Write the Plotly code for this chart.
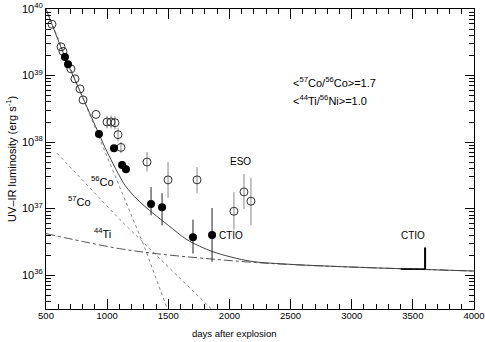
import plotly.graph_objects as go

# ---- data ----
open_days = [549, 623, 639, 704, 737, 778, 803, 909, 999, 1032, 1064, 1089, 1113,
             1326, 1498, 1735, 2037, 2119, 2176]
open_lum = [5.9e39, 2.7e39, 2.3e39, 1.26e39, 8.9e38, 6.3e38, 4.3e38, 2.6e38, 2.0e38,
            2.0e38, 1.95e38, 1.29e38, 8.3e37, 5.0e37, 2.7e37, 2.7e37, 9.1e36, 1.78e37, 1.29e37]
open_hi = [5.9e39, 2.7e39, 2.3e39, 1.26e39, 8.9e38, 6.3e38, 4.3e38, 2.6e38, 2.5e38,
           2.5e38, 2.45e38, 1.62e38, 1.0e38, 7.1e37, 5.0e37, 4.2e37, 1.78e37, 3.3e37, 2.9e37]
open_lo = [5.9e39, 2.7e39, 2.3e39, 1.26e39, 8.9e38, 6.3e38, 4.3e38, 2.6e38, 1.6e38,
           1.6e38, 1.55e38, 1.02e38, 6.8e37, 3.6e37, 1.45e37, 1.7e37, 4.8e36, 9.8e36, 5.6e36]

filled_days = [655, 680, 933, 1056, 1122, 1154, 1359, 1449, 1702, 1858]
filled_lum = [1.9e39, 1.48e39, 1.32e38, 8.1e37, 4.5e37, 3.9e37, 1.17e37, 1.05e37, 3.7e36, 4.0e36]
filled_hi = [1.9e39, 1.48e39, 1.32e38, 8.1e37, 4.5e37, 3.9e37, 2.1e37, 1.7e37, 6.8e36, 1.02e37]
filled_lo = [1.9e39, 1.48e39, 1.32e38, 8.1e37, 4.5e37, 3.9e37, 7.9e36, 5.6e36, 2.1e36, 1.58e36]

total_days = [500, 655, 800, 933, 1000, 1146, 1250, 1375, 1500, 1653, 1866, 2168, 2500, 3000, 3500, 4000]
total_lum = [1.0e40, 1.9e39, 4.7e38, 1.32e38, 7.1e37, 2.24e37, 1.35e37, 8.5e36, 5.6e36,
             3.4e36, 2.24e36, 1.62e36, 1.45e36, 1.32e36, 1.23e36, 1.15e36]

co56_days = [500, 933, 1105, 1300, 1495]
co56_lum = [1.0e40, 1.2e38, 2.04e37, 2.8e36, 3.0e35]

co57_days = [590, 1105, 1860]
co57_lum = [6.8e37, 6.8e36, 3.0e35]

ti44_days = [500, 800, 1100, 1400, 1800, 2200, 2600, 3000, 3500, 4000]
ti44_lum = [4.2e36, 3.2e36, 2.5e36, 2.1e36, 1.78e36, 1.55e36, 1.41e36, 1.32e36, 1.23e36, 1.15e36]

ctio_bar_days = [3600, 3600]
ctio_bar_lum = [1.23e36, 2.6e36]
ctio_seg_days = [3400, 3600]
ctio_seg_lum = [1.23e36, 1.23e36]

ytick_vals = [1e36, 1e37, 1e38, 1e39, 1e40]
ytick_text = ["10<sup>36</sup>", "10<sup>37</sup>", "10<sup>38</sup>", "10<sup>39</sup>", "10<sup>40</sup>"]
yminor_vals = [m * 10.0 ** e for e in range(35, 40) for m in range(2, 10)]
xtick_vals = [500, 1000, 1500, 2000, 2500, 3000, 3500, 4000]

FONT = "Liberation Sans, Arial, sans-serif"

fig = go.Figure()

fig.add_trace(go.Scatter(x=co56_days, y=co56_lum, mode="lines",
                         line=dict(color="#888", width=1, dash="dot"), showlegend=False))
fig.add_trace(go.Scatter(x=co57_days, y=co57_lum, mode="lines",
                         line=dict(color="#888", width=1, dash="dot"), showlegend=False))
fig.add_trace(go.Scatter(x=ti44_days, y=ti44_lum, mode="lines", line_shape="spline",
                         line=dict(color="#555", width=1, dash="dashdot"), showlegend=False))
fig.add_trace(go.Scatter(x=total_days, y=total_lum, mode="lines", line_shape="spline",
                         line=dict(color="#444", width=1, smoothing=0.8), showlegend=False))

fig.add_trace(go.Scatter(
    x=open_days, y=open_lum, mode="markers",
    marker=dict(symbol="circle-open", size=8, color="#333", line=dict(width=1)),
    error_y=dict(type="data", symmetric=False,
                 array=[h - v for h, v in zip(open_hi, open_lum)],
                 arrayminus=[v - l for v, l in zip(open_lum, open_lo)],
                 color="#888", thickness=1, width=0),
    showlegend=False))

fig.add_trace(go.Scatter(
    x=filled_days, y=filled_lum, mode="markers",
    marker=dict(symbol="circle", size=8, color="black"),
    error_y=dict(type="data", symmetric=False,
                 array=[h - v for h, v in zip(filled_hi, filled_lum)],
                 arrayminus=[v - l for v, l in zip(filled_lum, filled_lo)],
                 color="#222", thickness=1, width=0),
    showlegend=False))

fig.add_trace(go.Scatter(x=ctio_seg_days, y=ctio_seg_lum, mode="lines",
                         line=dict(color="black", width=1.5), showlegend=False))
fig.add_trace(go.Scatter(x=ctio_bar_days, y=ctio_bar_lum, mode="lines",
                         line=dict(color="black", width=2), showlegend=False))

def ann(x, y, text, xanchor="center", size=10):
    fig.add_annotation(x=x, y=y, xref="x", yref="y", text=text, showarrow=False,
                       xanchor=xanchor, yanchor="middle",
                       font=dict(family=FONT, size=size, color="black"))

ann(2087, 37.70, "ESO")
ann(1900, 36.60, "CTIO", xanchor="left")
ann(3501, 36.60, "CTIO")
ann(2500, 38.90, "&lt;<sup>57</sup>Co/<sup>56</sup>Co&gt;=1.7", xanchor="left", size=11)
ann(2500, 38.63, "&lt;<sup>44</sup>Ti/<sup>56</sup>Ni&gt;=1.0", xanchor="left", size=11)
ann(966, 37.42, "<sup>56</sup>Co", size=11)
ann(775, 37.12, "<sup>57</sup>Co", size=11)
ann(958, 36.64, "<sup>44</sup>Ti", size=11)

fig.add_annotation(x=0.44, y=-0.083, xref="paper", yref="paper", text="days after explosion",
                   showarrow=False, xanchor="center", yanchor="middle",
                   font=dict(family=FONT, size=9.5, color="black"))
fig.add_annotation(x=-0.082, y=0.5, xref="paper", yref="paper",
                   text="UV\u2013IR luminosity (erg s<sup>-1</sup>)", textangle=-90,
                   showarrow=False, xanchor="center", yanchor="middle",
                   font=dict(family=FONT, size=11, color="black"))

fig.update_xaxes(range=[500, 4000], tickvals=xtick_vals, ticks="inside", ticklen=10,
                 tickcolor="black", showline=True, linecolor="black", linewidth=1.3,
                 mirror="ticks", showgrid=False, zeroline=False, automargin=False,
                 ticklabeloverflow="allow", ticklabelstandoff=-3,
                 tickfont=dict(family=FONT, size=9.5, color="black"),
                 minor=dict(dtick=100, ticks="inside", ticklen=5, tickcolor="black", showgrid=False))
fig.update_yaxes(type="log", range=[35.49, 40.0], tickvals=ytick_vals, ticktext=ytick_text,
                 ticks="inside", ticklen=9, tickcolor="black", showline=True, linecolor="black",
                 linewidth=1, mirror="ticks", showgrid=False, zeroline=False, automargin=False,
                 ticklabeloverflow="allow",
                 tickfont=dict(family=FONT, size=11, color="black"),
                 minor=dict(tickvals=yminor_vals, ticks="inside", ticklen=5, tickcolor="black",
                            showgrid=False))

fig.update_layout(width=485, height=342, margin=dict(l=46, r=11, t=9, b=33),
                  paper_bgcolor="white", plot_bgcolor="white", showlegend=False)

fig.write_html("out.html", config={"displayModeBar": False},
               post_script="document.body.style.margin='0px';")
